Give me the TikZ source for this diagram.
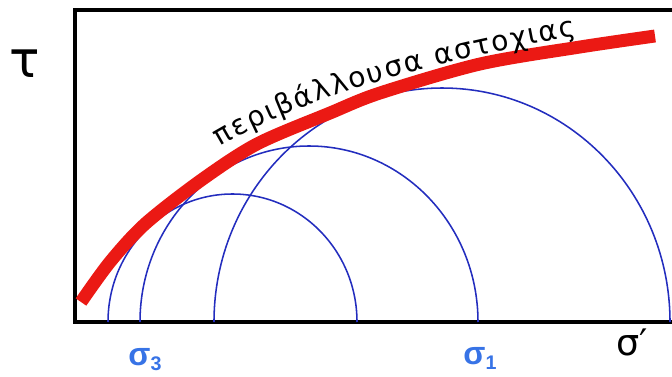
\documentclass[tikz,border=0pt]{standalone}
\usepackage{fontspec}
\usepackage{xcolor}
\usepackage{tikz}
\usetikzlibrary{decorations.text}
\newfontfamily\handfont{DejaVu Sans}
\newfontfamily\labelfont{Liberation Sans}
\definecolor{envred}{RGB}{235,25,20}
\definecolor{circblue}{RGB}{35,45,190}
\definecolor{sigblue}{RGB}{55,115,230}

\begin{document}
\begin{tikzpicture}[
  frame/.style={line width=3.2pt, black},
  mohr/.style={line width=1.1pt, circblue},
  envelope/.style={line width=9.2pt, envred},
  siglabel/.style={font=\labelfont\bfseries\fontsize{23}{23}\selectfont, text=sigblue, inner sep=0pt},
  axislabel/.style={font=\handfont, inner sep=0pt}
]
  \useasboundingbox (0,0) rectangle (16.8,9.4);

  \coordinate (origin) at (1.875,1.35);
  \coordinate (topright) at (16.8,9.15);
  \draw[frame] (topright) -- (origin |- topright) -- (origin) -- (origin -| topright);

  \coordinate (c1) at (8.925,1.35);
  \coordinate (c2) at (11.95,1.35);
  \coordinate (c3) at (16.75,1.35);
  \draw[mohr] (c1) arc[start angle=0, end angle=180, x radius=3.1125, y radius=3.2];
  \draw[mohr] (c2) arc[start angle=0, end angle=180, x radius=4.225, y radius=4.4];
  \draw[mohr] (c3) arc[start angle=0, end angle=180, x radius=5.7, y radius=5.85];

  \draw[envelope] plot[smooth] coordinates {(2.025,1.85) (2.75,2.85) (3.625,3.8) (5.0,4.875)
    (6.425,5.8) (8.25,6.575) (9.5,7.075) (12.0,7.8) (14.5,8.225) (16.375,8.5)};

  \coordinate (txtstart) at (5.5,5.725);
  \coordinate (txtend) at (14.425,8.5);
  \path[decorate, decoration={text along path,
      text={|\handfont\fontsize{20}{24}\selectfont|περιβάλλουσα αστοχιας},
      text align={fit to path}}]
    (txtstart) .. controls (8.0,7.225) and (11.925,8.05) .. (txtend);

  \node[axislabel, font=\handfont\fontsize{36}{36}\selectfont] (tau) at (0.625,7.8) {τ};
  \node[axislabel, font=\handfont\fontsize{26}{26}\selectfont] (sigma) at (15.8,0.85) {σ′};

  \node[siglabel] (s3) at (3.625,0.4) {σ\raisebox{-3.5pt}{\fontsize{14}{14}\selectfont 3}};
  \node[siglabel] (s1) at (12.0,0.45) {σ\raisebox{-3.5pt}{\fontsize{14}{14}\selectfont 1}};
\end{tikzpicture}
\end{document}
